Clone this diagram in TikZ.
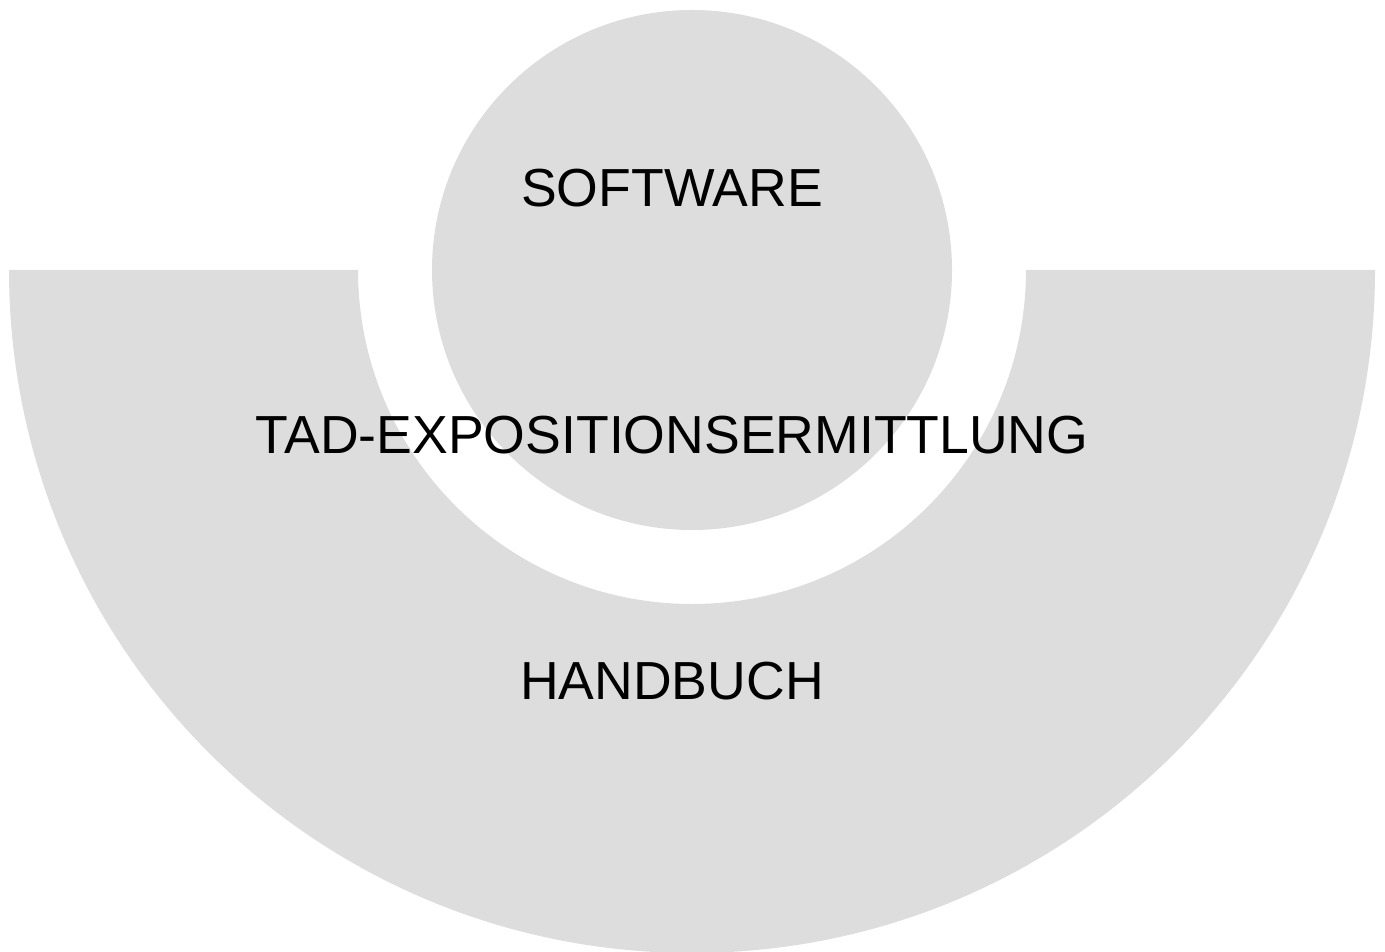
\documentclass[tikz,border=0pt]{standalone}
\usepackage{fontspec}
\setmainfont{Liberation Sans}
\usepackage{tikz}
\definecolor{ringgray}{HTML}{DDDDDD}
\tikzset{
  layer/.style={fill=ringgray,draw=none},
  caption/.style={font=\fontsize{30.5}{36}\selectfont,text=black,anchor=base,inner sep=0pt}
}

\begin{document}
\begin{tikzpicture}[x=0.02cm,y=0.02cm]
  \useasboundingbox (0,0) rectangle (1385,951);

  % outer half ring (handbook)
  \fill[layer] (9,681) arc[start angle=180,end angle=360,radius=683]
    -- (1026,681) arc[start angle=0,end angle=-180,radius=334] -- cycle;
  % inner disc (software)
  \fill[layer] (692,681) circle[radius=260];

  \node[caption] (software) at (672,744) {SOFTWARE};
  \node[caption] (tad) at (672,498) {TAD-EXPOSITIONSERMITTLUNG};
  \node[caption] (handbuch) at (672,252) {HANDBUCH};
\end{tikzpicture}
\end{document}
